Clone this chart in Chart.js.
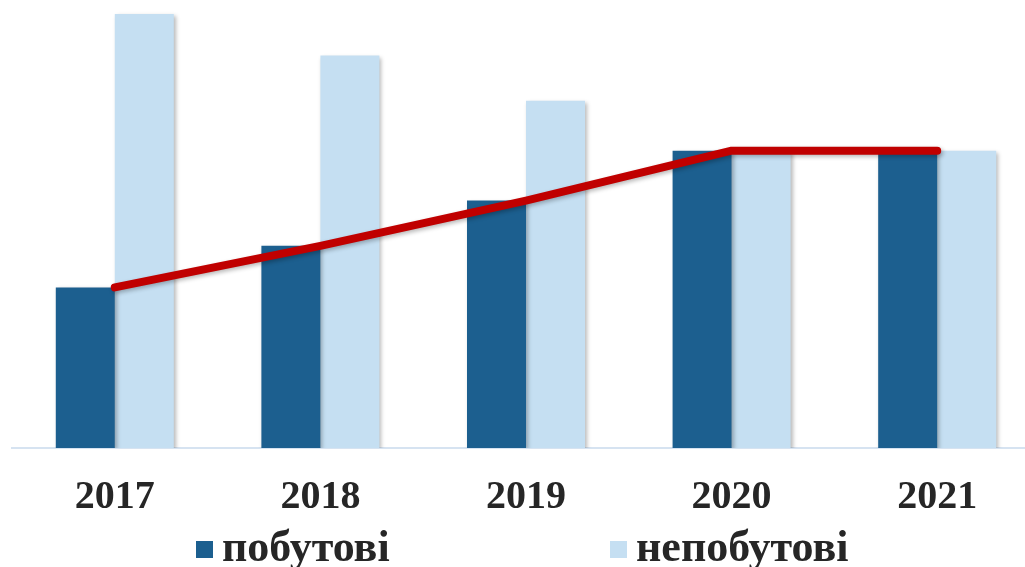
<!DOCTYPE html>
<html>
<head>
<meta charset="utf-8">
<script src="https://cdn.jsdelivr.net/npm/chart.js@4/dist/chart.umd.min.js"></script>
<style>
  html, body { margin: 0; padding: 0; background: #fff; overflow: hidden; }
  #wrap { position: relative; width: 1025px; height: 567px; overflow: hidden; }
  #box { position: absolute; left: 0; top: 0; width: 1045px; height: 567px; }
  .leg { position: absolute; top: 521px; display: flex; align-items: center;
         font-family: "Liberation Serif", serif; font-weight: bold; font-size: 44px; color: #262626; }
  .leg span.sw { display: inline-block; width: 17px; height: 17px; margin-right: 9px; margin-top: 6px; }
</style>
</head>
<body>
<div id="wrap">
  <div id="box"><canvas id="chart"></canvas></div>
  <div id="legend"></div>
</div>
<script>
// categories and values (shares, %)
const years = ['2017', '2018', '2019', '2020', '2021']
const household = [27, 34, 41.6, 50, 50]      // побутові
const nonHousehold = [73, 66, 58.4, 50, 50]   // непобутові
const seriesNames = ['побутові', 'непобутові']
const colors = ['#1C5F8F', '#C5DFF2']

// soft shadow like the office chart
const shadow = {
  id: 'shadow',
  beforeDatasetDraw(chart) {
    const ctx = chart.ctx
    ctx.save()
    ctx.shadowColor = 'rgba(0,0,0,0.28)'
    ctx.shadowBlur = 4
    ctx.shadowOffsetX = 2
    ctx.shadowOffsetY = 2
  },
  afterDatasetDraw(chart) {
    chart.ctx.restore()
  }
}

const chart = new Chart(document.getElementById('chart'), {
  type: 'bar',
  data: {
    labels: years,
    datasets: [
      {
        type: 'line',
        label: 'trend',
        data: household,
        borderColor: '#C00000',
        borderWidth: 8,
        borderCapStyle: 'round',
        borderJoinStyle: 'round',
        pointRadius: 0,
        tension: 0,
        order: 0
      },
      {
        label: seriesNames[0],
        data: household,
        backgroundColor: colors[0],
        categoryPercentage: 0.574,
        barPercentage: 1,
        order: 1
      },
      {
        label: seriesNames[1],
        data: nonHousehold,
        backgroundColor: colors[1],
        categoryPercentage: 0.574,
        barPercentage: 1,
        order: 1
      }
    ]
  },
  options: {
    responsive: true,
    maintainAspectRatio: false,
    animation: false,
    layout: { padding: { left: 12, right: 5, top: 2, bottom: 27 } },
    plugins: {
      legend: { display: false },
      tooltip: { enabled: false }
    },
    scales: {
      x: {
        grid: { display: false },
        border: { display: true, color: '#D6E3F1', width: 2 },
        ticks: {
          color: '#262626',
          padding: 18,
          font: { family: 'Liberation Serif', weight: 'bold', size: 40 }
        }
      },
      y: {
        display: false,
        min: 0,
        max: 75
      }
    }
  },
  plugins: [shadow]
})

// legend as html, spaced like the original
const legendLeft = [196, 610]
const legend = document.getElementById('legend')
seriesNames.forEach((name, i) => {
  const item = document.createElement('div')
  item.className = 'leg'
  item.style.left = legendLeft[i] + 'px'
  item.innerHTML = `<span class="sw" style="background:${colors[i]}"></span>${name}`
  legend.appendChild(item)
})
</script>
</body>
</html>
